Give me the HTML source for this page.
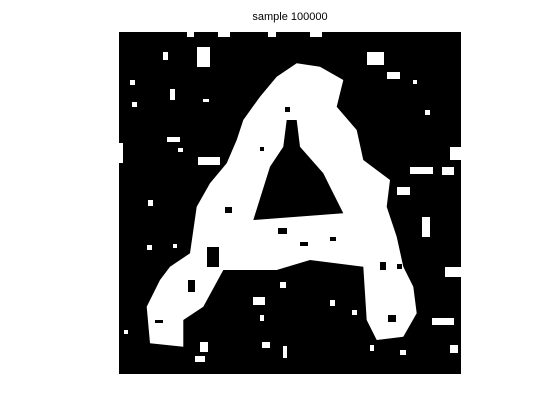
<!DOCTYPE html>
<html><head><meta charset="utf-8"><style>
html,body{margin:0;padding:0;background:#fff;width:560px;height:420px;overflow:hidden}
svg{display:block}
</style></head><body>
<svg width="560" height="420">
<rect width="560" height="420" fill="#fff"/>
<text x="290" y="20" font-family="Liberation Sans, sans-serif" font-size="11" text-anchor="middle" fill="#000">sample 100000</text>
<g id="img">
<rect x="119" y="32" width="342" height="342" fill="#000"/>
</g>
</svg>
<script>
const outline=[[296.7,63.3],[320,66.7],[343.3,80],[336.7,106.7],[356.7,130],[363.3,160],[390,180],[386.7,206.7],[396.7,236.7],[403.3,266.7],[413.3,286.7],[416.7,313.3],[403.3,336.7],[376.7,340],[366.7,320],[363.3,266.7],[310,260],[276.7,270],[223.3,270],[203.3,306.7],[183.3,320],[183.3,346.7],[150,343.3],[146.7,306.7],[160,280],[170,266.7],[190,253.3],[196.7,206.7],[210,183.3],[226.7,163.3],[236.7,140],[243.3,120],[260,96.7],[276.7,76.7]];
const hole=[[286.7,120],[296.7,120],[300,146.7],[323.3,173.3],[330,186.7],[343.3,213.3],[253.3,220],[270,166.7],[283.3,146.7]];
const whiteBlobs=[[197,47,13,20],[367,52,17,13],[387,72,13,7],[198,157,22,8],[410,167,23,7],[442,167,12,8],[397,187,13,8],[422,217,8,20],[445,267,16,10],[432,318,22,7],[253,297,12,8],[450,147,11,13],[119,143,4,20],[167,137,13,5],[187,32,7,5],[218,32,12,5],[268,32,8,5],[310,32,12,5],[130,80,5,5],[163,52,5,8],[170,89,5,11],[203,99,6,3],[178,148,5,4],[132,102,5,5],[148,200,5,6],[147,245,5,5],[173,244,4,4],[425,110,5,5],[413,80,4,4],[262,342,8,6],[283,346,4,12],[200,342,8,10],[195,356,10,6],[280,282,6,6],[330,300,5,6],[352,310,5,5],[260,315,4,6],[450,345,8,8],[400,350,6,5],[370,345,4,6],[124,330,4,4]];
const blackBlobs=[[207,247,12,20],[225,207,7,6],[188,280,7,12],[388,315,8,7],[278,228,9,6],[300,242,8,4],[380,262,6,8],[397,264,5,5],[285,107,5,5],[260,147,4,4],[330,237,6,4],[155,320,8,3]];
const g=document.getElementById('img');
const NS='http://www.w3.org/2000/svg';
const pts=a=>'M'+a.map(p=>p.join(',')).join('L')+'Z';
const p=document.createElementNS(NS,'path');
p.setAttribute('d',pts(outline)+pts(hole));
p.setAttribute('fill','#fff');p.setAttribute('fill-rule','evenodd');


g.appendChild(p);
function blob(b,c,name){const r=document.createElementNS(NS,'rect');
r.setAttribute('x',b[0]);r.setAttribute('y',b[1]);r.setAttribute('width',b[2]);r.setAttribute('height',b[3]);r.setAttribute('fill',c);


g.appendChild(r);}
whiteBlobs.forEach(b=>blob(b,'#fff','noise-white'));
blackBlobs.forEach(b=>blob(b,'#000','noise-black'));
</script>
</body></html>
